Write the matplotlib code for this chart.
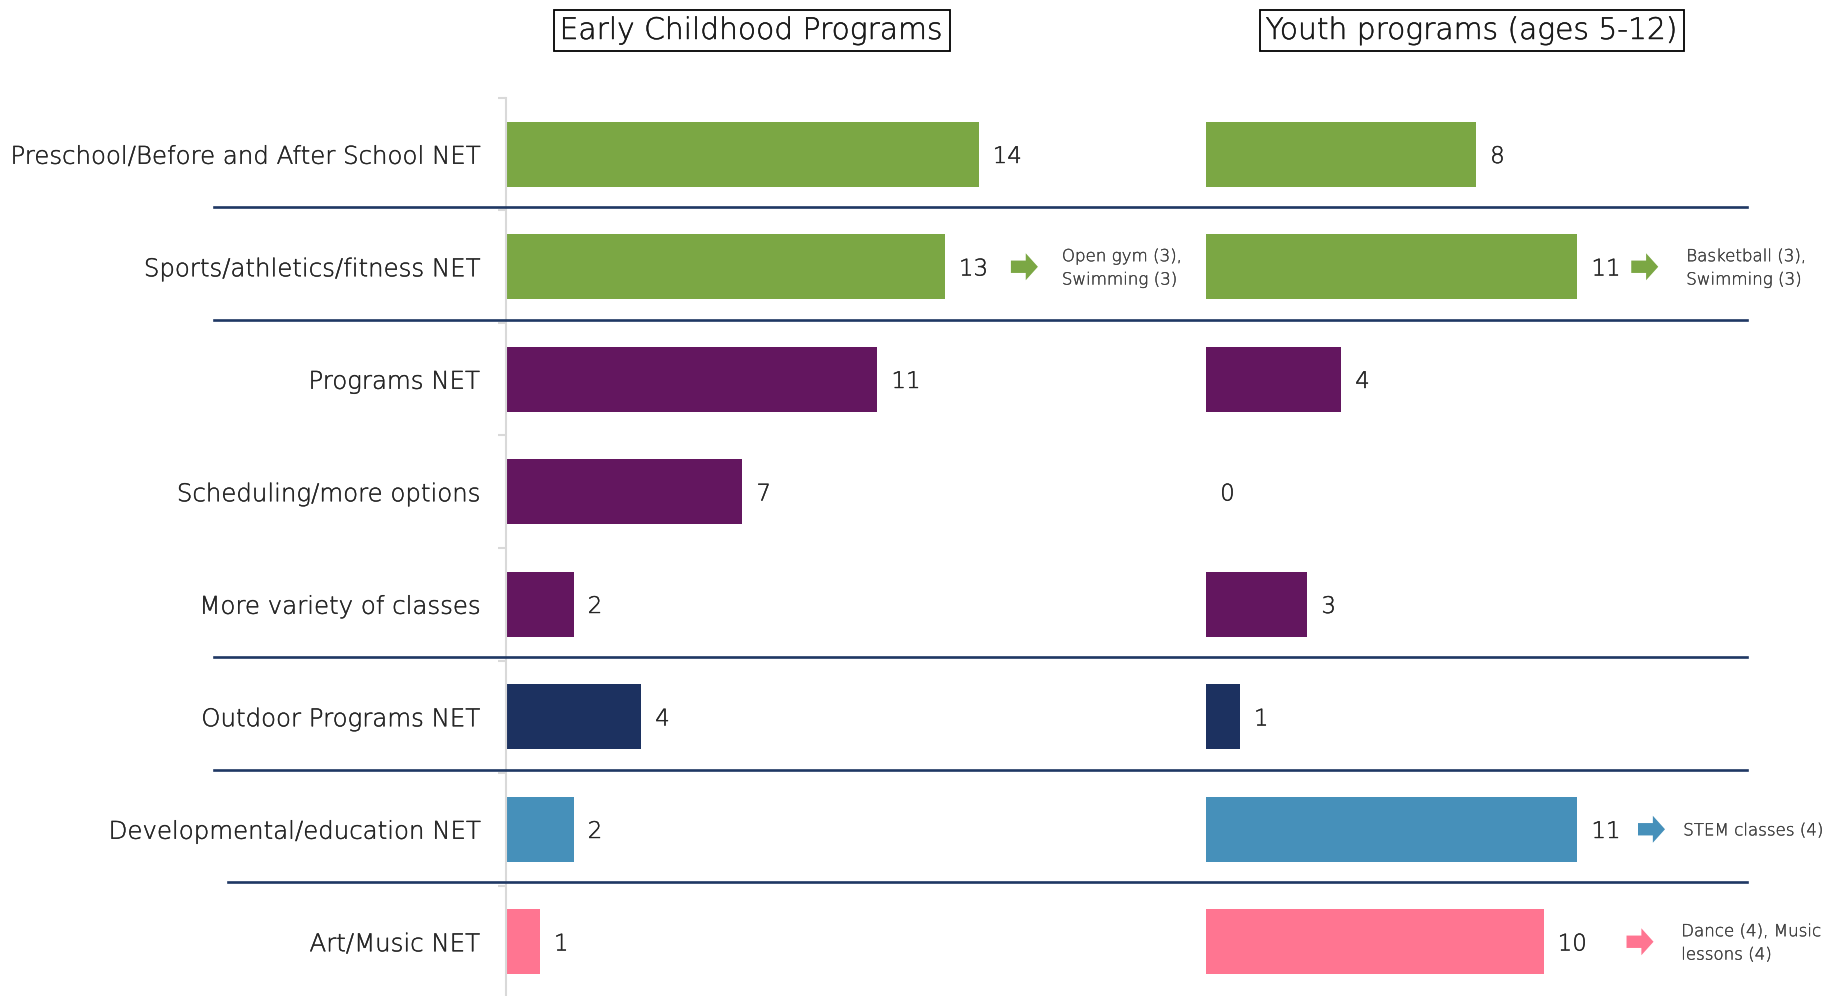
import matplotlib
matplotlib.use("Agg")
import matplotlib.pyplot as plt
from matplotlib.lines import Line2D
from matplotlib.transforms import blended_transform_factory
import matplotlib.patheffects as pe
import numpy as np

plt.rcParams['font.family'] = ['DejaVu Sans']
plt.rcParams['font.weight'] = 'light'

categories = [
    "Preschool/Before and After School NET",
    "Sports/athletics/fitness NET",
    "Programs NET",
    "Scheduling/more options",
    "More variety of classes",
    "Outdoor Programs NET",
    "Developmental/education NET",
    "Art/Music NET",
]
early_childhood = [14, 13, 11, 7, 2, 4, 2, 1]
youth = [8, 11, 4, 0, 3, 1, 11, 10]

GREEN, PURPLE, NAVY, BLUE, PINK = "#7BA744", "#63165F", "#1C3160", "#4690BA", "#FF7591"
bar_colors = [GREEN, GREEN, PURPLE, PURPLE, PURPLE, NAVY, BLUE, PINK]

panel_titles = ["Early Childhood Programs", "Youth programs (ages 5-12)"]

# annotations: (panel, row, text)
notes = [
    (0, 1, "Open gym (3),\nSwimming (3)"),
    (1, 1, "Basketball (3),\nSwimming (3)"),
    (1, 6, "STEM classes (4)"),
    (1, 7, "Dance (4), Music\nlessons (4)"),
]
# arrow start offsets (beyond bar end) and text offsets, per note
arrow_gap = [1.96, 1.6, 1.8, 2.46]
text_x = [16.47, 14.23, 14.14, 14.08]

separators_after = [0, 1, 4, 5, 6]

W, H = 1837, 996
fig = plt.figure(figsize=(W / 100, H / 100), dpi=100)
fig.patch.set_facecolor("white")

px_per_unit = 33.75
xmax = 18
ax_w = xmax * px_per_unit / W
ax_bottom = (H - 998) / H
ax_h = 900 / H
ax1 = fig.add_axes([506 / W, ax_bottom, ax_w, ax_h])
ax2 = fig.add_axes([1206 / W, ax_bottom, ax_w, ax_h])

TXT = "#262626"
NOTE = "#404040"
LBL = 17.6


def thick(color, lw=0.3):
    return [pe.withStroke(linewidth=lw, foreground=color)]


y = np.arange(len(categories))
for i, (ax, vals) in enumerate([(ax1, early_childhood), (ax2, youth)]):
    ax.barh(y, vals, height=0.58, color=bar_colors, zorder=2)
    ax.set_xlim(0, xmax)
    ax.set_ylim(len(categories) - 0.5, -0.5)
    ax.set_xticks([])
    for s in ["top", "right", "bottom"]:
        ax.spines[s].set_visible(False)
    ax.patch.set_alpha(0)
    for yi, v in zip(y, vals):
        ax.text(v + 0.42, yi + 0.02, f"{v}", va="center", ha="left", fontsize=16.5,
                color=TXT, path_effects=thick(TXT))

ax1.spines["left"].set_color("#d9d9d9")
ax1.spines["left"].set_linewidth(1.5)
ax1.set_yticks(y)
ax1.set_yticklabels(categories, fontsize=LBL, color=TXT)
for lab in ax1.get_yticklabels():
    lab.set_path_effects(thick(TXT))
ax1.tick_params(axis="y", which="major", length=0, pad=19)
ax1.set_yticks(np.arange(-0.5, len(categories)), minor=True)
ax1.tick_params(axis="y", which="minor", length=6, width=1.5, color="#d9d9d9")

ax2.spines["left"].set_visible(False)
ax2.set_yticks([])

for k, (panel, row, text) in enumerate(notes):
    ax = [ax1, ax2][panel]
    vals = [early_childhood, youth][panel]
    x0 = vals[row] + arrow_gap[k]
    ax.arrow(x0, row, 0.8, 0, width=0.11, head_width=0.24, head_length=0.36,
             length_includes_head=True, color=bar_colors[row], lw=0, zorder=3)
    ax.text(text_x[k], row + 0.01, text, va="center", ha="left", fontsize=12,
            color=NOTE, linespacing=1.38, path_effects=thick(NOTE, 0.25))

# separator lines
tr = blended_transform_factory(fig.transFigure, ax1.transData)
for r in separators_after:
    x_start = 0.124 if r == 6 else 0.1165
    fig.add_artist(Line2D([x_start, 0.951], [r + 0.47, r + 0.47], transform=tr,
                          color="#1F3864", lw=1.9, zorder=5))

# titles
for t, xc in zip(panel_titles, [751.6 / W, 1472 / W]):
    fig.text(xc, 1 - 30.5 / H, t, ha="center", va="center", fontsize=21.4, color="#1a1a1a",
             path_effects=thick("#1a1a1a", 0.35),
             bbox=dict(boxstyle="square,pad=0.2", fc="white", ec="black", lw=1.3))

fig.savefig("out.png", dpi=100, facecolor="white")
